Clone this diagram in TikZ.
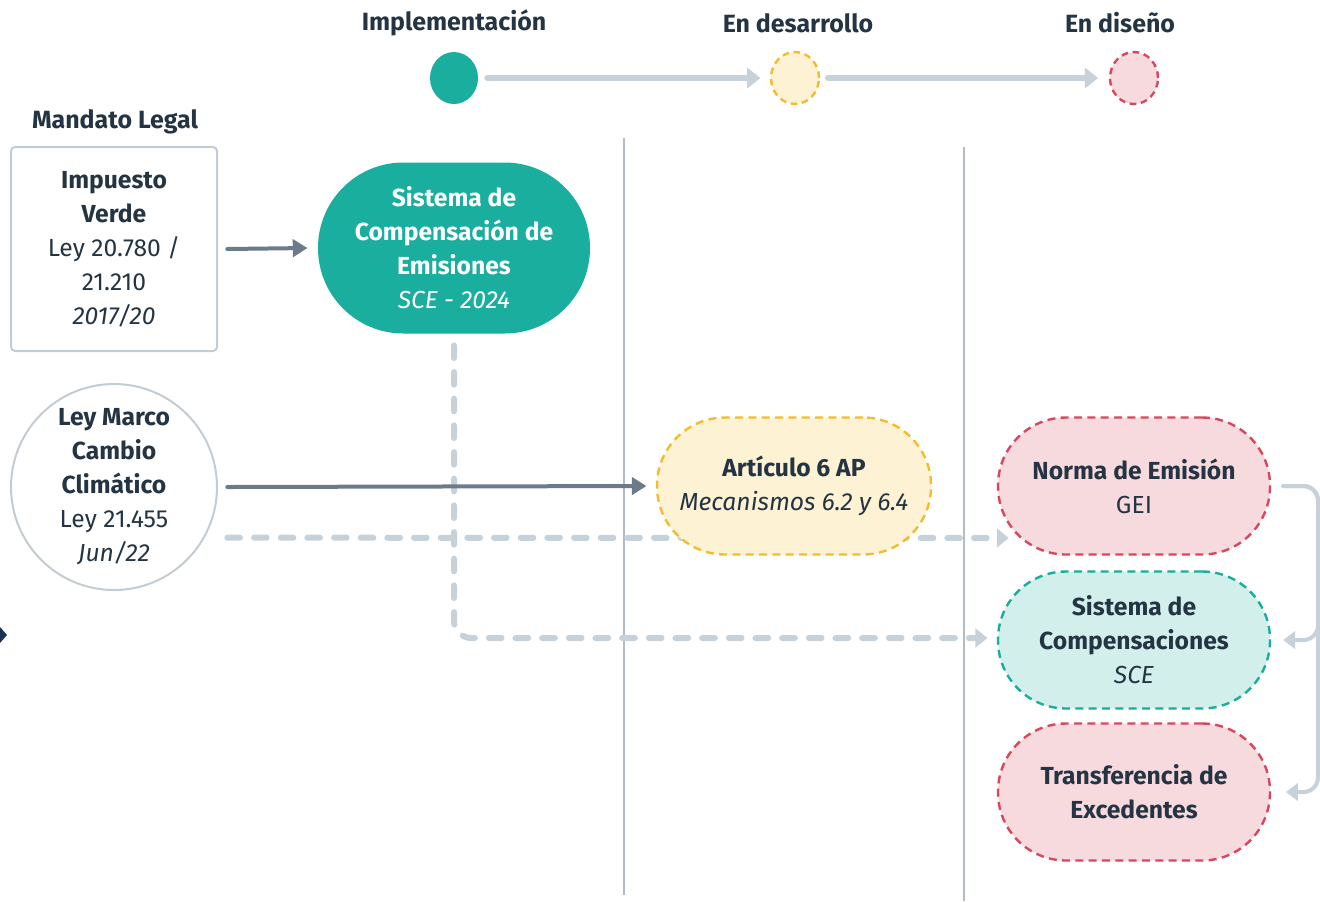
\documentclass[tikz,border=0pt]{standalone}
\usepackage{fontspec}
\setmainfont{Fira Sans}
\usetikzlibrary{arrows.meta,shapes.geometric,backgrounds}
\definecolor{txt}{HTML}{243443}
\definecolor{cteal}{HTML}{1AAE9F}
\definecolor{ltealfill}{HTML}{D3EFEC}
\definecolor{tealdash}{HTML}{1AAE9A}
\definecolor{redb}{HTML}{D8475E}
\definecolor{redfill}{HTML}{F7DADE}
\definecolor{yelb}{HTML}{F2BC2C}
\definecolor{yelfill}{HTML}{FDF2D3}
\definecolor{conn}{HTML}{C6D1DA}
\definecolor{darkconn}{HTML}{6B7B8A}
\definecolor{vline}{HTML}{B3BCC4}
\definecolor{boxb}{HTML}{C3CCD5}
\definecolor{navy}{HTML}{1C3254}
\begin{document}
\begin{tikzpicture}[x=0.75pt,y=-0.75pt,
  every node/.style={font=\fontsize{18.5}{25.5}\selectfont, text=txt, align=center, inner sep=0pt},
  hdr/.style={font=\fontsize{18.7}{22}\selectfont\bfseries},
  stad/.style={rectangle, minimum width=204pt, minimum height=102.75pt, rounded corners=51pt, line width=1.8pt, dash pattern=on 6pt off 4pt},
  redstad/.style={stad, draw=redb, fill=redfill},
  legarrow/.style={draw=conn, line width=5pt, line cap=round, -{Triangle[length=10pt,width=15pt]}},
  darkarrow/.style={draw=darkconn, line width=3pt, line cap=round, -{Triangle[length=11pt,width=13pt]}},
  dashconn/.style={draw=conn, line width=4.5pt, line cap=round, dash pattern=on 9.5pt off 10.5pt, -{Triangle[length=9pt,width=14pt]}},
  bracket/.style={draw=conn, line width=3pt, line cap=round, rounded corners=11pt, -{Triangle[length=9pt,width=13pt]}},
  vsep/.style={draw=vline, line width=1.5pt}]
\useasboundingbox (0,0) rectangle (1320,901);

% headers
\node[hdr] (h1) at (454,23) {Implementación};
\node[hdr] (h2) at (798,23) {En desarrollo};
\node[hdr] (h3) at (1120,23) {En diseño};
\node[hdr] (ml) at (115,122) {Mandato Legal};

% legend
\node[ellipse, fill=cteal, minimum width=36pt, minimum height=39pt] (leg1) at (454,78) {};
\node[ellipse, fill=yelfill, draw=yelb, line width=1.8pt, dash pattern=on 5pt off 3.5pt, minimum width=36pt, minimum height=39pt] (leg2) at (795,78) {};
\node[ellipse, fill=redfill, draw=redb, line width=1.8pt, dash pattern=on 5pt off 3.5pt, minimum width=36pt, minimum height=39pt] (leg3) at (1134,78) {};
\draw[legarrow] ([xshift=7pt]leg1.east) -- ([xshift=-7pt]leg2.west);
\draw[legarrow] ([xshift=6pt]leg2.east) -- ([xshift=-8pt]leg3.west);

% nodes
\node[rectangle, draw=boxb, line width=1.5pt, rounded corners=3pt, minimum width=154.5pt, minimum height=153pt] (imp) at (114,249)
  {\textbf{Impuesto}\\\textbf{Verde}\\Ley 20.780 /\\21.210\\\textit{2017/20}};
\node[circle, draw=boxb, line width=1.5pt, fill=white, minimum size=154.5pt] (lmc) at (114,487)
  {\textbf{Ley Marco}\\\textbf{Cambio}\\\textbf{Climático}\\Ley 21.455\\\textit{Jun/22}};
\node[stad, fill=cteal, solid, minimum height=128.25pt, rounded corners=64pt] (sce) at (454,248)
  {\color{white}\textbf{Sistema de}\\\color{white}\textbf{Compensación de}\\\color{white}\textbf{Emisiones}\\\color{white}\textit{SCE - 2024}};
\node[stad, draw=yelb, fill=yelfill, minimum width=205.5pt] (art) at (794,486)
  {\textbf{Artículo 6 AP}\\\textit{Mecanismos 6.2 y 6.4}};
\node[redstad] (nor) at (1134,486) {\textbf{Norma de Emisión}\\GEI};
\node[stad, draw=tealdash, fill=ltealfill] (comp) at (1134,640) {\textbf{Sistema de}\\\textbf{Compensaciones}\\\textit{SCE}};
\node[redstad] (tra) at (1134,792) {\textbf{Transferencia de}\\\textbf{Excedentes}};

% background: separators and dashed connectors
\begin{scope}[on background layer]
\coordinate (v1a) at (624,138); \coordinate (v1b) at (624,895);
\coordinate (v2a) at (964,147); \coordinate (v2b) at (964,901);
\draw[vsep] (v1a) -- (v1b);
\draw[vsep] (v2a) -- (v2b);
\draw[dashconn] ([xshift=7pt,yshift=-38pt]lmc.east) -- ([xshift=9pt,yshift=-39pt]nor.west);
\draw[dashconn, rounded corners=13pt] ([yshift=-8pt]sce.south) |- ([xshift=-7pt,yshift=1.5pt]comp.west);
\end{scope}

% solid arrows
\draw[darkarrow] ([xshift=7pt]imp.east) -- ([xshift=-7pt]sce.west);
\draw[darkarrow] ([xshift=7pt]lmc.east) -- ([xshift=-7pt]art.west);

% bracket on the right
\coordinate (rb) at (1318,0);
\draw[bracket] ([xshift=9pt]nor.east) -| (rb |- comp.east) -- ([xshift=9pt]comp.east);
\draw[bracket] ([xshift=9pt]nor.east) -| (rb |- tra.east) -- ([xshift=11pt]tra.east);

% edge fragment
\fill[navy] (0,627) -- (7,635) -- (0,643) -- cycle;
\end{tikzpicture}
\end{document}
